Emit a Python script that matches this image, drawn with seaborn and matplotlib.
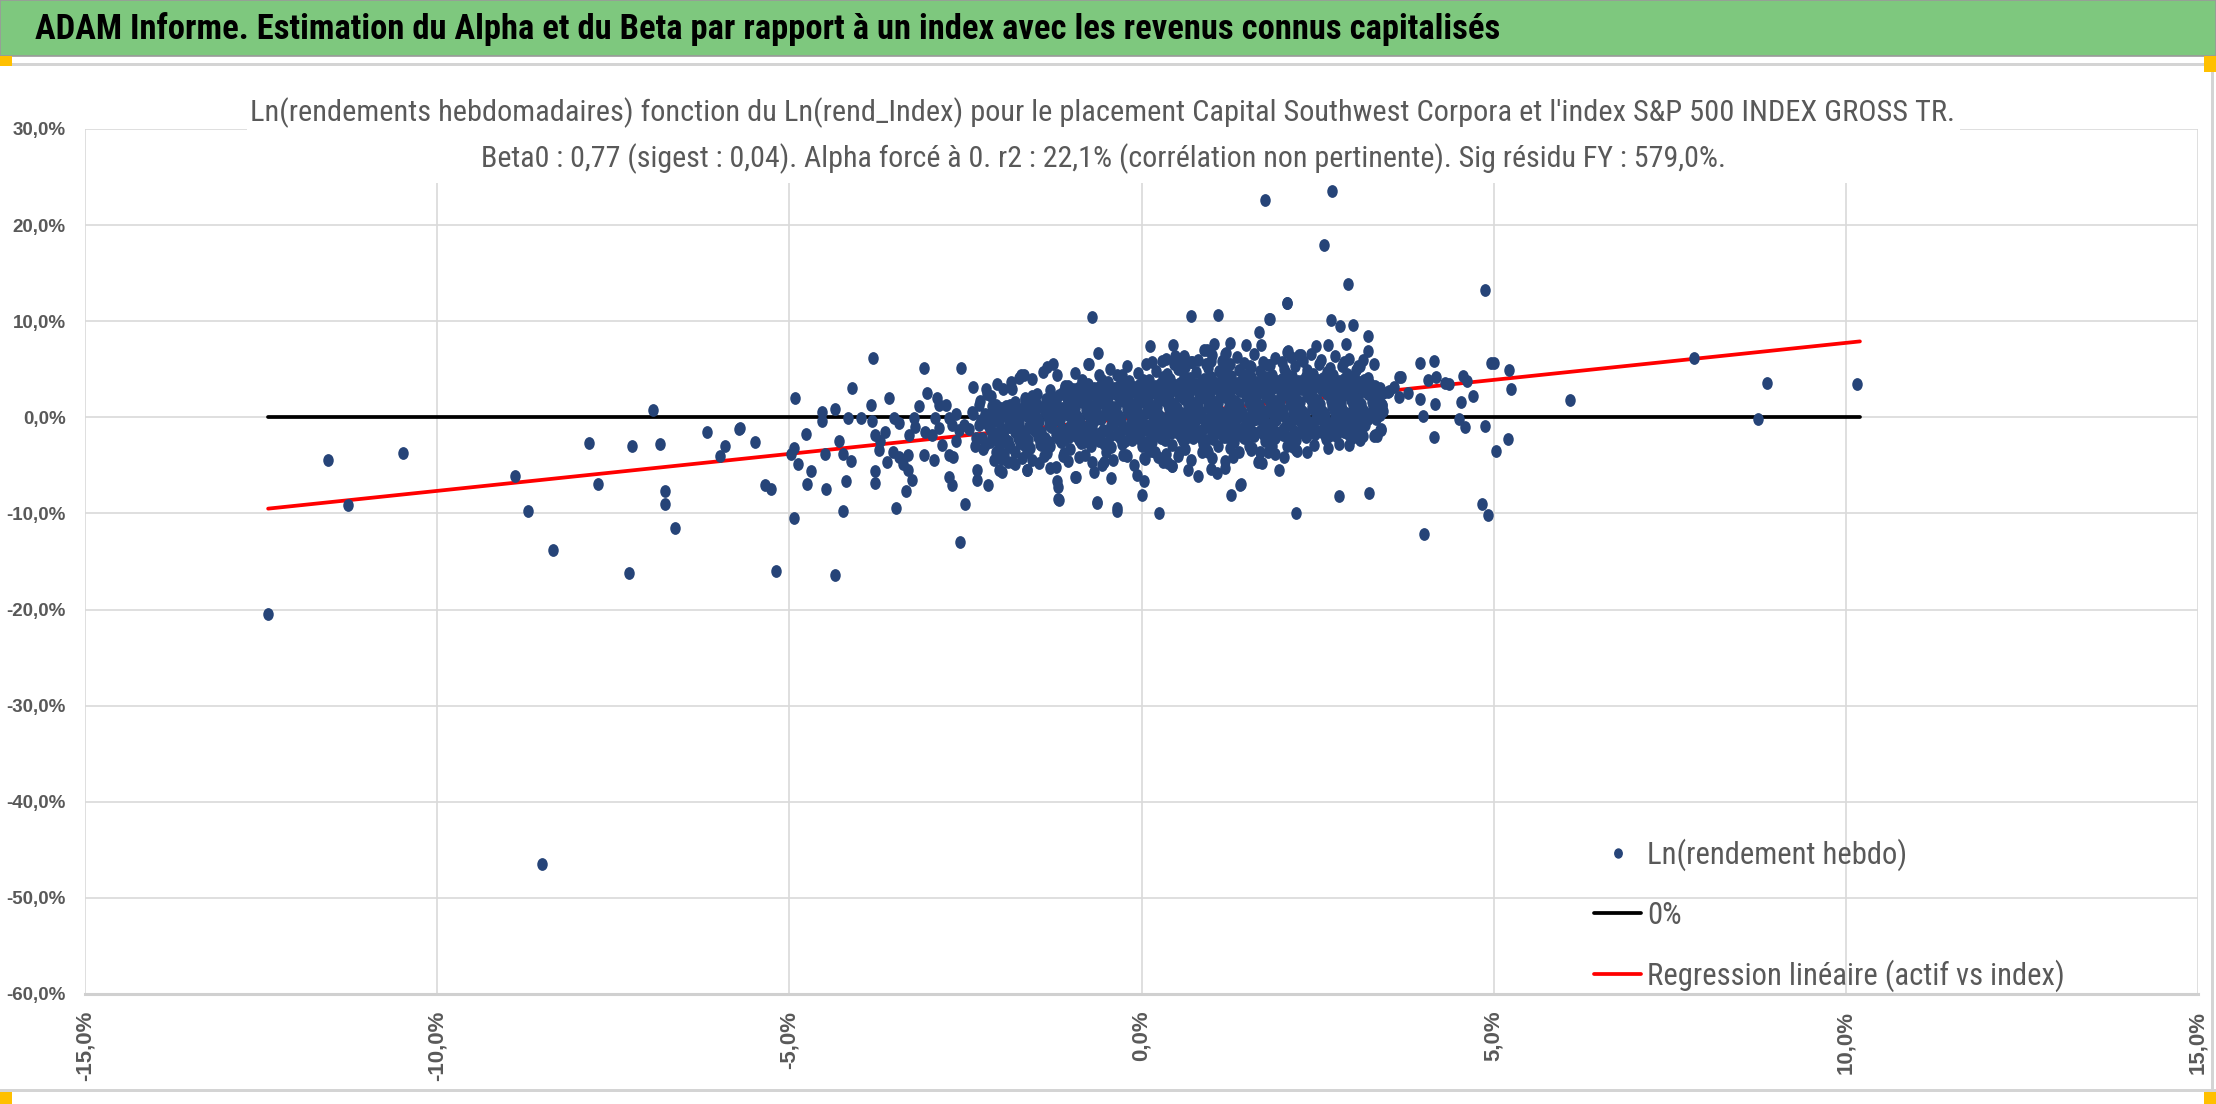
import matplotlib
matplotlib.use("Agg")

import pandas as pd
import matplotlib.pyplot as plt
import seaborn as sns
from matplotlib import font_manager
from matplotlib.patches import Rectangle
from matplotlib.path import Path
from matplotlib.markers import MarkerStyle
from matplotlib.transforms import Affine2D
from matplotlib.lines import Line2D

# ======================
# DATA  (x = Ln(rend_Index) %, y = Ln(rendement hebdo) %)
# ======================
header_title = ("ADAM Informe. Estimation du Alpha et du Beta par rapport à un index "
                "avec les revenus connus capitalisés")
chart_title_1 = ("Ln(rendements hebdomadaires) fonction du Ln(rend_Index) pour le placement "
                 "Capital Southwest Corpora et l'index S&P 500 INDEX GROSS TR.")
chart_title_2 = ("Beta0 : 0,77 (sigest : 0,04). Alpha forcé à 0. r2 : 22,1% "
                 "(corrélation non pertinente). Sig résidu FY : 579,0%.")
legend_labels = ["Ln(rendement hebdo)", "0%", "Regression linéaire (actif vs index)"]

x_ticks = [-15, -10, -5, 0, 5, 10, 15]
x_tick_labels = ["-15,0%", "-10,0%", "-5,0%", "0,0%", "5,0%", "10,0%", "15,0%"]
y_ticks = [30, 20, 10, 0, -10, -20, -30, -40, -50, -60]
y_tick_labels = ["30,0%", "20,0%", "10,0%", "0,0%", "-10,0%", "-20,0%",
                 "-30,0%", "-40,0%", "-50,0%", "-60,0%"]

zero_x = [-12.4, 10.2]
zero_y = [0.0, 0.0]
reg_x = [-12.4, 10.2]
reg_y = [-9.5, 7.9]

left_tail = [(-12.40, -20.45), (-11.55, -4.45), (-11.26, -9.1), (-10.49, -3.72),
             (-8.90, -6.09), (-8.71, -9.70), (-8.51, -46.5), (-8.35, -13.77),
             (-7.84, -2.64), (-7.71, -6.96), (-7.27, -16.17), (-7.24, -2.99),
             (-6.94, 0.73), (-6.84, -2.75), (-6.77, -7.65), (-6.77, -8.97),
             (-6.63, -11.51), (-6.17, -1.57), (-5.99, -4.07), (-5.92, -2.99),
             (-5.72, -1.25), (-5.70, -1.08), (-5.49, -2.54), (-5.35, -7.03),
             (-5.26, -7.44), (-5.19, -16.03)]

mid_left = [(-4.93, -10.43), (-4.92, 2.05), (-4.97, -3.83), (-4.93, -3.17), (-4.88, -4.9),
            (-4.76, -1.7), (-4.75, -6.96), (-4.69, -5.63), (-4.53, 0.6), (-4.53, -0.4),
            (-4.50, -3.8), (-4.48, -7.5), (-4.35, -16.4), (-4.35, 0.9), (-4.29, -2.5),
            (-4.24, -3.8), (-4.13, -4.5), (-4.20, -6.6), (-4.24, -9.7), (-4.11, 3.1),
            (-4.16, -0.1), (-3.98, -0.1), (-3.84, 1.3), (-3.81, 6.2), (-3.59, 2.0),
            (-3.83, -0.4), (-3.78, -1.8), (-3.71, -2.5), (-3.73, -3.4), (-3.64, -1.5),
            (-3.79, -5.6), (-3.79, -6.8), (-3.62, -4.6), (-3.48, -9.4), (-3.53, -3.6),
            (-3.45, -4.1), (-3.39, -4.9), (-3.31, -5.5), (-3.31, -3.9), (-3.34, -7.7),
            (-3.26, -6.5), (-3.52, -0.1), (-3.45, -0.6), (-3.30, -1.8), (-3.23, -0.1),
            (-3.21, -1.0), (-3.16, 1.2), (-3.09, 5.1), (-3.04, 2.5), (-3.07, -1.5),
            (-3.09, -3.9), (-2.95, -4.4), (-2.90, 2.0), (-2.88, 1.3), (-2.93, -0.1),
            (-2.88, -1.1), (-2.97, -1.8), (-2.83, -2.9), (-2.78, 1.3), (-2.74, -0.1),
            (-2.69, -0.8), (-2.74, -6.2), (-2.69, -7.0), (-2.58, -13.0), (-2.56, 5.1),
            (-2.64, 0.3), (-2.59, -1.3), (-2.52, -0.8), (-2.64, -2.5), (-2.67, -4.1),
            (-2.74, -3.9), (-2.50, -9.0), (-2.39, 3.2), (-2.34, -5.5), (-2.34, -6.5),
            (-2.31, 1.3), (-2.39, 0.3), (-2.31, -0.8), (-2.26, -2.2), (-2.36, -3.0),
            (-2.18, -7.0), (-2.21, 2.9), (-2.14, 2.2), (-2.17, -0.8), (-2.12, -1.8),
            (-2.22, -2.9), (-2.07, -3.6), (-2.03, -5.5), (-2.45, -1.2), (-2.40, 0.6),
            (-2.35, -2.1), (-2.30, 1.7), (-2.28, -0.3), (-2.25, -3.3), (-2.20, 2.4),
            (-2.15, -2.6), (-2.12, 1.2)]

core_a = [(-2.02, -2.9), (-1.87, -3.1), (-1.73, -2.7), (-1.58, -3.2), (-1.44, -2.8),
          (-1.30, -3.0), (-1.15, -2.6), (-1.01, -3.3), (-0.86, -2.7), (-0.72, -3.0),
          (-0.57, -2.5), (-0.43, -3.1), (-0.28, -2.8), (-0.14, -2.4), (0.01, -3.0),
          (0.15, -2.6), (0.30, -2.2), (0.44, -2.9), (0.59, -2.5), (0.73, -2.1),
          (0.88, -2.8), (1.02, -2.3), (1.17, -2.0), (1.31, -2.6), (1.46, -2.2),
          (1.60, -1.9), (1.75, -2.5), (1.89, -2.1), (2.04, -1.8), (2.18, -2.4),
          (2.33, -2.0), (2.47, -1.7), (2.62, -2.3), (2.76, -1.9), (2.91, -1.5)]

core_ab = [(-2.05, -2.3), (-1.90, -2.5), (-1.76, -2.1), (-1.61, -2.4), (-1.47, -2.0),
           (-1.32, -2.6), (-1.18, -2.2), (-1.03, -2.0), (-0.89, -2.4), (-0.74, -2.1),
           (-0.60, -2.5), (-0.45, -1.9), (-0.31, -2.2), (-0.16, -2.0), (-0.02, -2.3),
           (0.13, -1.9), (0.27, -2.1), (0.42, -1.6), (0.56, -2.0), (0.71, -1.7),
           (0.85, -2.1), (1.00, -1.6), (1.14, -1.8), (1.29, -1.4), (1.43, -1.9),
           (1.58, -1.5), (1.72, -1.7), (1.87, -1.3), (2.01, -1.8), (2.16, -1.4),
           (2.30, -1.6), (2.45, -1.2), (2.59, -1.7), (2.74, -1.3), (2.88, -1.5),
           (3.03, -1.6)]

core_b = [(-2.10, -1.6), (-1.95, -2.0), (-1.80, -1.5), (-1.66, -1.9), (-1.51, -1.4),
          (-1.37, -2.1), (-1.22, -1.7), (-1.08, -1.3), (-0.93, -1.9), (-0.79, -1.5),
          (-0.64, -2.0), (-0.50, -1.4), (-0.35, -1.8), (-0.21, -1.2), (-0.06, -1.7),
          (0.08, -1.3), (0.23, -1.8), (0.37, -1.1), (0.52, -1.6), (0.66, -1.2),
          (0.81, -1.7), (0.95, -1.0), (1.10, -1.5), (1.24, -1.1), (1.39, -1.6),
          (1.53, -0.9), (1.68, -1.4), (1.82, -1.0), (1.97, -1.5), (2.11, -0.8),
          (2.26, -1.3), (2.40, -0.9), (2.55, -1.4), (2.69, -0.7), (2.84, -1.2),
          (2.98, -0.8), (3.13, -1.1)]

core_bc = [(-2.15, -1.2), (-2.00, -1.4), (-1.86, -1.0), (-1.71, -1.3), (-1.57, -1.1),
           (-1.42, -1.5), (-1.28, -1.0), (-1.13, -1.2), (-0.99, -1.4), (-0.84, -0.9),
           (-0.70, -1.1), (-0.55, -1.3), (-0.41, -0.8), (-0.26, -1.0), (-0.12, -1.2),
           (0.03, -0.7), (0.17, -0.9), (0.32, -0.6), (0.46, -1.0), (0.61, -0.5),
           (0.75, -0.8), (0.90, -0.4), (1.04, -0.7), (1.19, -0.3), (1.33, -0.6),
           (1.48, -0.5), (1.62, -0.2), (1.77, -0.6), (1.91, -0.3), (2.06, -0.5),
           (2.20, -0.1), (2.35, -0.4), (2.49, -0.2), (2.64, -0.5), (2.78, 0.0),
           (2.93, -0.3), (3.07, -0.6), (3.22, -0.2)]

core_c = [(-2.18, -0.8), (-2.03, -0.5), (-1.89, -1.0), (-1.74, -0.6), (-1.60, -0.9),
          (-1.45, -0.4), (-1.31, -0.8), (-1.16, -0.3), (-1.02, -0.9), (-0.87, -0.5),
          (-0.73, -0.7), (-0.58, -0.2), (-0.44, -0.8), (-0.29, -0.4), (-0.15, -0.6),
          (0.00, -0.1), (0.14, -0.7), (0.29, -0.2), (0.43, -0.5), (0.58, 0.0),
          (0.72, -0.6), (0.87, -0.1), (1.01, -0.4), (1.16, 0.1), (1.30, -0.5),
          (1.45, 0.0), (1.59, -0.3), (1.74, 0.2), (1.88, -0.4), (2.03, 0.1),
          (2.17, -0.2), (2.32, 0.3), (2.46, -0.3), (2.61, 0.2), (2.75, -0.1),
          (2.90, 0.4), (3.04, 0.0), (3.19, 0.3), (3.33, -0.2)]

core_cd = [(-2.20, -0.2), (-2.05, -0.4), (-1.91, 0.0), (-1.76, -0.3), (-1.62, 0.1),
           (-1.47, -0.2), (-1.33, 0.0), (-1.18, -0.1), (-1.04, 0.2), (-0.89, -0.2),
           (-0.75, 0.1), (-0.60, 0.0), (-0.46, 0.2), (-0.31, -0.1), (-0.17, 0.3),
           (-0.02, 0.1), (0.12, 0.4), (0.27, 0.0), (0.41, 0.3), (0.56, 0.5),
           (0.70, 0.2), (0.85, 0.6), (0.99, 0.3), (1.14, 0.5), (1.28, 0.2),
           (1.43, 0.6), (1.57, 0.4), (1.72, 0.7), (1.86, 0.3), (2.01, 0.8),
           (2.15, 0.5), (2.30, 0.6), (2.44, 0.9), (2.59, 0.4), (2.73, 0.8),
           (2.88, 0.5), (3.02, 0.7), (3.17, 0.4), (3.31, 0.5)]

core_d = [(-2.22, 0.3), (-2.08, -0.1), (-1.93, 0.4), (-1.79, 0.1), (-1.64, 0.5),
          (-1.50, 0.0), (-1.35, 0.4), (-1.21, 0.2), (-1.06, 0.6), (-0.92, 0.1),
          (-0.77, 0.5), (-0.63, 0.3), (-0.48, 0.7), (-0.34, 0.2), (-0.19, 0.6),
          (-0.05, 0.4), (0.10, 0.8), (0.24, 0.3), (0.39, 0.9), (0.53, 0.5),
          (0.68, 0.8), (0.82, 0.4), (0.97, 1.0), (1.11, 0.6), (1.26, 0.9),
          (1.40, 0.5), (1.55, 1.1), (1.69, 0.7), (1.84, 1.0), (1.98, 0.6),
          (2.13, 1.2), (2.27, 0.8), (2.42, 1.1), (2.56, 0.7), (2.71, 1.2),
          (2.85, 0.9), (3.00, 1.3), (3.14, 0.8), (3.29, 1.1), (3.43, 0.7)]

core_de = [(-2.10, 0.7), (-1.95, 0.5), (-1.81, 0.8), (-1.66, 0.6), (-1.52, 0.9),
           (-1.37, 0.7), (-1.23, 0.9), (-1.08, 0.6), (-0.94, 1.0), (-0.79, 0.8),
           (-0.65, 1.0), (-0.50, 0.7), (-0.36, 1.1), (-0.21, 0.9), (-0.07, 1.2),
           (0.08, 0.8), (0.22, 1.1), (0.37, 1.3), (0.51, 1.0), (0.66, 1.2),
           (0.80, 1.4), (0.95, 1.1), (1.09, 1.5), (1.24, 1.2), (1.38, 1.4),
           (1.53, 1.6), (1.67, 1.3), (1.82, 1.5), (1.96, 1.7), (2.11, 1.4),
           (2.25, 1.6), (2.40, 1.8), (2.54, 1.4), (2.69, 1.7), (2.83, 1.5),
           (2.98, 1.8), (3.12, 1.4), (3.27, 1.6), (3.41, 1.3)]

core_e = [(-2.00, 1.0), (-1.86, 1.3), (-1.71, 0.9), (-1.57, 1.4), (-1.42, 1.1),
          (-1.28, 1.5), (-1.13, 1.0), (-0.99, 1.3), (-0.84, 1.6), (-0.70, 1.2),
          (-0.55, 1.5), (-0.41, 1.1), (-0.26, 1.7), (-0.12, 1.3), (0.03, 1.6),
          (0.17, 1.2), (0.32, 1.8), (0.46, 1.4), (0.61, 1.9), (0.75, 1.5),
          (0.90, 2.0), (1.04, 1.6), (1.19, 2.1), (1.33, 1.7), (1.48, 2.2),
          (1.62, 1.8), (1.77, 2.1), (1.91, 1.7), (2.06, 2.3), (2.20, 1.9),
          (2.35, 2.2), (2.49, 1.8), (2.64, 2.4), (2.78, 2.0), (2.93, 2.3),
          (3.07, 1.9), (3.22, 2.4), (3.36, 2.0), (3.50, 2.6)]

core_ef = [(-1.80, 1.6), (-1.65, 1.8), (-1.50, 1.5), (-1.36, 1.9), (-1.21, 1.7),
           (-1.06, 2.0), (-0.92, 1.8), (-0.77, 2.1), (-0.63, 1.9), (-0.48, 2.0),
           (-0.34, 2.2), (-0.19, 1.9), (-0.05, 2.1), (0.10, 2.3), (0.24, 2.0),
           (0.39, 2.4), (0.53, 2.2), (0.68, 2.5), (0.82, 2.3), (0.97, 2.6),
           (1.11, 2.4), (1.26, 2.5), (1.40, 2.7), (1.55, 2.4), (1.69, 2.6),
           (1.84, 2.8), (1.98, 2.5), (2.13, 2.7), (2.27, 2.9), (2.42, 2.6),
           (2.56, 2.8), (2.71, 3.0), (2.85, 2.6), (3.00, 2.9), (3.14, 2.7),
           (3.29, 2.9), (3.43, 2.5)]

core_f = [(-1.65, 2.0), (-1.48, 2.4), (-1.32, 1.9), (-1.17, 2.3), (-1.03, 2.6),
          (-0.88, 2.1), (-0.74, 2.5), (-0.59, 2.2), (-0.45, 2.7), (-0.30, 2.3),
          (-0.16, 2.8), (-0.01, 2.4), (0.13, 2.9), (0.28, 2.5), (0.42, 3.0),
          (0.57, 2.6), (0.71, 3.1), (0.86, 2.7), (1.00, 3.2), (1.15, 2.8),
          (1.29, 3.3), (1.44, 2.9), (1.58, 3.2), (1.73, 2.8), (1.87, 3.4),
          (2.02, 3.0), (2.16, 3.3), (2.31, 2.9), (2.45, 3.5), (2.60, 3.1),
          (2.74, 3.4), (2.89, 3.0), (3.03, 3.5), (3.18, 3.1), (3.32, 3.3)]

core_fg = [(-1.30, 2.8), (-1.12, 2.6), (-0.97, 2.9), (-0.83, 2.7), (-0.68, 3.0),
           (-0.54, 2.8), (-0.39, 3.1), (-0.25, 2.9), (-0.10, 3.2), (0.04, 3.0),
           (0.19, 3.3), (0.33, 3.1), (0.48, 3.4), (0.62, 3.2), (0.77, 3.5),
           (0.91, 3.3), (1.06, 3.6), (1.20, 3.4), (1.35, 3.6), (1.49, 3.4),
           (1.64, 3.7), (1.78, 3.5), (1.93, 3.8), (2.07, 3.6), (2.22, 3.8),
           (2.36, 3.5), (2.51, 3.9), (2.65, 3.7), (2.80, 3.8), (2.94, 3.6),
           (3.09, 3.7), (3.24, 3.5)]

core_g = [(-1.05, 3.3), (-0.90, 3.0), (-0.76, 3.5), (-0.61, 3.2), (-0.47, 3.7),
          (-0.32, 3.3), (-0.18, 3.8), (-0.03, 3.4), (0.11, 3.9), (0.26, 3.5),
          (0.40, 4.0), (0.55, 3.6), (0.69, 4.1), (0.84, 3.7), (0.98, 4.2),
          (1.13, 3.8), (1.27, 4.3), (1.42, 3.9), (1.56, 4.2), (1.71, 3.8),
          (1.85, 4.4), (2.00, 4.0), (2.14, 4.3), (2.29, 3.9), (2.43, 4.5),
          (2.58, 4.1), (2.72, 4.4), (2.87, 4.0), (3.01, 4.3), (3.16, 3.9)]

core_fill = [(-1.96, -2.6), (-1.67, -2.9), (-1.39, -2.5), (-1.10, -2.4), (-0.82, -2.6),
             (-0.53, -2.8), (-0.24, -2.5), (0.05, -2.6), (0.34, -2.4), (0.63, -2.2),
             (0.92, -2.4), (1.21, -2.0), (1.50, -1.8), (1.79, -2.0), (2.08, -2.1),
             (2.37, -1.7), (2.66, -1.9), (2.95, -1.8),
             (-2.04, -1.8), (-1.75, -1.7), (-1.46, -1.8), (-1.17, -1.5), (-0.88, -1.2),
             (-0.59, -1.6), (-0.30, -1.5), (-0.01, -1.4), (0.28, -1.4), (0.57, -0.9),
             (0.86, -1.3), (1.15, -0.9), (1.44, -1.1), (1.73, -0.8), (2.02, -1.1),
             (2.31, -0.6), (2.60, -1.0), (2.89, -0.5), (3.18, -0.8),
             (-2.12, -0.5), (-1.83, -0.7), (-1.54, -0.6), (-1.25, -0.5), (-0.96, -0.6),
             (-0.67, -0.4), (-0.38, -0.3), (-0.09, -0.5), (0.20, -0.4), (0.49, -0.2),
             (0.78, -0.3), (1.07, 0.0), (1.36, -0.1), (1.65, 0.0), (1.94, 0.2),
             (2.23, -0.3), (2.52, 0.1), (2.81, 0.3), (3.10, 0.2), (3.38, 0.2),
             (-2.15, 0.1), (-1.86, 0.2), (-1.57, 0.3), (-1.28, 0.1), (-0.99, 0.4),
             (-0.70, 0.6), (-0.41, 0.4), (-0.12, 0.7), (0.17, 0.6), (0.46, 0.7),
             (0.75, 1.0), (1.04, 0.8), (1.33, 0.7), (1.62, 1.0), (1.91, 0.8),
             (2.20, 1.0), (2.49, 1.3), (2.78, 1.0), (3.07, 1.0), (3.36, 0.9),
             (-1.92, 1.2), (-1.63, 1.0), (-1.34, 1.2), (-1.05, 1.5), (-0.76, 1.4),
             (-0.47, 1.3), (-0.18, 1.5), (0.11, 1.4), (0.40, 1.6), (0.69, 1.7),
             (0.98, 1.8), (1.27, 1.9), (1.56, 2.0), (1.85, 1.8), (2.14, 2.1),
             (2.43, 2.0), (2.72, 2.2), (3.01, 2.1), (3.30, 2.3),
             (-1.55, 2.2), (-1.26, 2.1), (-0.97, 2.3), (-0.68, 2.4), (-0.39, 2.5),
             (-0.10, 2.6), (0.19, 2.7), (0.48, 2.8), (0.77, 2.9), (1.06, 3.0),
             (1.35, 3.1), (1.64, 3.0), (1.93, 3.2), (2.22, 3.1), (2.51, 3.3),
             (2.80, 3.2), (3.09, 3.2), (3.38, 3.0),
             (-0.85, 3.6), (-0.56, 3.9), (-0.27, 3.6), (0.02, 3.9), (0.31, 4.2),
             (0.60, 4.3), (0.89, 4.0), (1.18, 4.5), (1.47, 4.4), (1.76, 4.2),
             (2.05, 4.6), (2.34, 4.3), (2.63, 4.7), (2.92, 4.5), (3.21, 4.1)]

core_top = [(-0.35, 4.4), (-0.05, 4.6), (0.20, 4.8), (0.36, 4.5), (0.52, 5.0),
            (0.78, 4.7), (0.95, 5.1), (1.10, 4.8), (1.22, 5.3), (1.38, 4.9),
            (1.55, 5.2), (1.68, 4.8), (1.83, 5.4), (2.02, 5.0), (2.18, 5.3),
            (2.35, 4.9), (2.52, 5.5), (2.68, 5.1), (2.85, 5.3), (3.05, 4.9),
            (0.15, 5.8), (0.35, 6.1), (0.55, 5.6), (0.80, 6.0), (1.00, 6.5),
            (1.15, 5.9), (1.35, 6.3), (1.45, 5.7), (1.60, 6.6), (1.90, 6.2),
            (2.00, 5.8), (2.12, 6.3), (2.30, 5.9), (2.40, 6.6), (2.55, 6.0),
            (2.75, 6.4), (2.95, 6.1), (3.15, 6.0), (3.30, 5.5), (-0.20, 5.3),
            (-0.45, 5.0), (-0.95, 4.6), (-1.40, 4.7), (-1.85, 3.7), (-2.05, 3.5),
            (2.88, 5.8), (1.25, 5.5), (0.62, 5.2)]

core_bottom = [(-1.95, -3.8), (-1.62, -3.6), (-1.38, -4.0), (-1.10, -3.7), (-0.80, -3.9),
               (-0.50, -3.6), (-0.20, -4.0), (0.10, -3.5), (0.35, -3.8), (0.62, -3.3),
               (0.95, -3.6), (1.25, -3.2), (1.55, -3.4), (1.85, -3.0), (2.15, -3.1),
               (2.45, -2.9), (2.80, -2.8), (3.10, -2.4), (3.30, -1.9), (3.40, -1.2),
               (-1.70, -4.2), (-1.45, -4.8), (-1.05, -4.5), (-0.70, -4.6), (-0.40, -4.4),
               (-0.10, -5.0), (0.30, -4.6), (0.70, -4.4), (1.00, -4.2), (1.30, -4.1),
               (1.80, -3.6), (2.35, -3.6), (2.65, -3.2), (2.95, -2.9), (-2.10, -4.4),
               (-1.30, -5.3)]

top_halo = [(-0.70, 10.4), (0.70, 10.5), (1.09, 10.6), (2.06, 11.9), (1.81, 10.2),
            (1.67, 8.9), (-0.62, 6.7), (-0.75, 5.6), (0.12, 7.4), (0.45, 7.5),
            (0.07, 5.5), (0.29, 5.9), (-0.76, 5.5), (-1.25, 5.6), (-1.34, 5.2),
            (-1.55, 4.0), (-1.71, 4.45), (-1.20, 4.4), (-1.09, 3.3), (0.89, 7.0),
            (1.03, 7.6), (1.25, 7.7), (1.19, 6.6), (1.48, 7.5), (1.70, 7.5),
            (2.07, 6.8), (2.23, 6.5), (0.61, 6.4), (0.70, 5.8), (0.48, 6.4),
            (0.46, 5.5), (0.91, 5.6), (0.98, 5.9), (1.54, 5.3), (1.72, 5.8),
            (1.80, 5.4), (-0.27, 4.45), (-0.61, 4.4), (-0.85, 3.9), (0.93, 7.0),
            (1.20, 6.7), (0.61, 6.3), (0.71, 5.8), (-1.96, 2.9), (-1.84, 2.9),
            (-1.74, 4.1), (-1.67, 4.4), (-2.07, 1.3), (-1.98, 0.3), (-1.88, 1.0),
            (-1.79, 1.3), (-1.70, 0.3), (-1.60, 0.6), (-1.09, 3.2)]

bottom_halo = [(-1.18, -8.5), (-1.20, -6.6), (-1.18, -7.2), (-0.63, -8.8), (-0.35, -9.4),
               (0.00, -8.1), (-0.06, -6.0), (0.03, -6.6), (-0.93, -6.2), (-0.68, -5.7),
               (-0.44, -6.3), (-1.63, -5.5), (-1.22, -5.2), (-1.55, -4.4), (-1.79, -4.9),
               (-1.89, -4.6), (-1.98, -5.7), (-0.56, -5.0), (-0.53, -4.6), (0.66, -5.5),
               (0.80, -6.1), (0.99, -5.4), (1.07, -5.8), (1.18, -5.3), (1.18, -4.5),
               (1.27, -8.1), (1.40, -7.0), (1.67, -4.5), (2.20, -3.4), (0.44, -5.1),
               (0.52, -4.0), (0.24, -4.1), (0.15, -3.5), (0.04, -4.2), (-0.22, -3.9),
               (-0.89, -4.1), (-1.12, -4.0), (-1.34, -3.7), (-1.42, -2.9), (1.38, -3.6),
               (1.52, -3.0), (1.57, -3.2), (0.25, -10.0), (-0.26, -3.9), (0.05, -4.3),
               (0.19, -3.6), (0.38, -4.8), (0.43, -5.1), (0.53, -3.6), (0.86, -3.6),
               (0.93, -3.4), (1.09, -3.0), (1.66, -4.6), (1.68, -3.6), (1.41, -6.9),
               (-1.98, -4.3), (-1.84, -4.6), (-1.79, -3.6), (-1.88, -2.9), (-1.62, -5.5),
               (-1.17, -8.6), (-0.94, -6.2), (-0.63, -8.9), (-0.35, -9.7)]

right_tail = [(1.76, 22.6), (2.71, 23.6), (2.59, 17.95), (2.93, 13.9), (2.07, 11.9),
              (1.82, 10.2), (2.69, 10.1), (2.82, 9.5), (3.00, 9.6), (3.22, 8.5),
              (3.22, 6.9), (2.08, 6.9), (2.26, 6.5), (2.48, 7.4), (2.65, 7.5),
              (2.90, 7.6), (3.10, 5.3), (4.87, 13.2), (3.96, 5.7), (4.15, 5.9),
              (4.96, 5.7), (5.01, 5.7), (5.22, 4.9), (5.25, 2.9), (3.69, 4.2),
              (4.07, 3.9), (4.18, 4.2), (4.31, 3.6), (4.37, 3.5), (4.57, 4.3),
              (4.62, 3.8), (4.71, 2.2), (4.54, 1.6), (4.16, 1.4), (3.95, 1.9),
              (3.78, 2.5), (3.65, 2.1), (3.99, 0.1), (4.51, -0.2), (4.60, -1.0),
              (4.87, -0.9), (4.15, -2.0), (5.20, -2.3), (5.03, -3.5), (6.08, 1.8),
              (7.85, 6.2), (8.75, -0.2), (8.88, 3.6), (10.16, 3.5), (4.83, -9.0),
              (4.92, -10.2), (4.01, -12.1), (3.23, -7.9), (2.80, -8.2), (2.19, -10.0),
              (1.95, -5.5), (1.90, -3.8), (2.03, -4.1), (2.21, -3.5), (2.19, -2.35),
              (2.06, -3.0), (1.84, -2.3), (1.71, -4.8), (2.99, -2.2), (3.15, -1.9),
              (3.34, -1.9), (3.40, -1.3), (2.47, -1.4), (2.62, -1.0), (2.80, -0.4),
              (3.35, 2.7), (3.37, 2.0), (3.42, 1.3), (3.51, 2.7), (3.58, 3.2),
              (3.08, 5.3), (3.66, 4.2), (2.59, -0.8), (2.99, -2.0), (3.32, -1.8),
              (3.39, -1.3)]

# ======================
# STYLE
# ======================
W, H, DPI = 2216, 1104, 100
BLUE = "#264478"
GRAY_TXT = "#595959"
GREEN = "#7EC87E"
ORANGE = "#FFC000"

sns.set_style("whitegrid")
installed = {f.name for f in font_manager.fontManager.ttflist}
MAIN = next((f for f in ["Liberation Sans Narrow", "Roboto Condensed", "Lato", "Roboto"]
             if f in installed), "DejaVu Sans")
WIDE = "Liberation Sans" if "Liberation Sans" in installed else "DejaVu Sans"
plt.rcParams["font.family"] = [MAIN, "DejaVu Sans"]

fig = plt.figure(figsize=(W / DPI, H / DPI), dpi=DPI)
fig.patch.set_facecolor("white")
renderer = fig.canvas.get_renderer()


def fx(px):
    return px / W


def fy(py):
    return 1 - py / H


def size_for(text, target_px, weight="normal"):
    # font size whose rendered width matches target_px
    t = fig.text(0, 0, text, fontsize=20, fontweight=weight)
    w = t.get_window_extent(renderer=renderer).width
    t.remove()
    return 20 * target_px / w


# ======================
# FRAME (header band, separators, handles)
# ======================
fig.patches.append(Rectangle((0, fy(56)), 1, fy(0) - fy(56), transform=fig.transFigure,
                             facecolor=GREEN, edgecolor="#9A9A9A", linewidth=1.2, zorder=0))
fig.patches.append(Rectangle((0, fy(66)), 1, fy(63) - fy(66), transform=fig.transFigure,
                             facecolor="#D4D4D4", edgecolor="none", zorder=0))
fig.patches.append(Rectangle((0, fy(1092)), 1, fy(1089) - fy(1092), transform=fig.transFigure,
                             facecolor="#D4D4D4", edgecolor="none", zorder=0))
fig.patches.append(Rectangle((fx(2211), fy(1090)), fx(3), fy(66) - fy(1090),
                             transform=fig.transFigure, facecolor="#D4D4D4",
                             edgecolor="none", zorder=0))
for (hx, hy, hw, hh) in [(0, 56, 12, 10), (2204, 56, 12, 16), (0, 1092, 12, 12), (2204, 1092, 12, 12)]:
    fig.patches.append(Rectangle((fx(hx), fy(hy + hh)), fx(hw), fy(hy) - fy(hy + hh),
                                 transform=fig.transFigure, facecolor=ORANGE,
                                 edgecolor="none", zorder=5))

fig.text(fx(35), fy(29), header_title, ha="left", va="center", color="black",
         fontweight="bold", fontsize=size_for(header_title, 1460, "bold"))

# ======================
# PLOT
# ======================
ax = fig.add_axes([fx(85), fy(994), fx(2198) - fx(85), fy(129) - fy(994)])

pts = pd.DataFrame(left_tail + mid_left + core_a + core_ab + core_b + core_bc + core_c
                   + core_cd + core_d + core_de + core_e + core_ef + core_f + core_fg
                   + core_g + core_fill + core_top + core_bottom + top_halo + bottom_halo
                   + right_tail, columns=["index_ret", "asset_ret"])

ell = MarkerStyle(Path.unit_circle().transformed(Affine2D().scale(0.82, 1.0)))

sns.lineplot(x=zero_x, y=zero_y, color="black", linewidth=2.7, ax=ax, zorder=2)
sns.lineplot(x=reg_x, y=reg_y, color="#FF0000", linewidth=2.7, ax=ax, zorder=2)
sns.scatterplot(data=pts, x="index_ret", y="asset_ret", marker=ell, s=85, color=BLUE,
                edgecolor=BLUE, linewidth=0, ax=ax, zorder=3, legend=False)

ax.set_xlim(-15, 15)
ax.set_ylim(-60, 30)
ax.set_xticks(x_ticks)
ax.set_xticklabels(x_tick_labels)
ax.set_yticks(y_ticks)
ax.set_yticklabels(y_tick_labels)
ax.set_xlabel("")
ax.set_ylabel("")
ax.grid(True, color="#D9D9D9", linewidth=1.2)
ax.set_axisbelow(True)
for s in ax.spines.values():
    s.set_visible(False)
ax.spines["bottom"].set_visible(True)
ax.spines["bottom"].set_color("#D0D0D0")
ax.spines["bottom"].set_linewidth(2.2)
ax.tick_params(axis="both", length=0, colors=GRAY_TXT)
ax.tick_params(axis="y", pad=14)
ax.tick_params(axis="x", pad=12)
for lbl in ax.get_yticklabels():
    lbl.set_fontfamily(WIDE)
    lbl.set_fontweight("bold")
    lbl.set_fontsize(13.5)
for lbl in ax.get_xticklabels():
    lbl.set_fontfamily(WIDE)
    lbl.set_fontweight("bold")
    lbl.set_fontsize(16)
    lbl.set_rotation(90)
    lbl.set_va("top")

# chart title on a white box over the top gridline
fig.patches.append(Rectangle((fx(247), fy(183)), fx(1960) - fx(247), fy(92) - fy(183),
                             transform=fig.transFigure, facecolor="white",
                             edgecolor="none", zorder=1))
fig.text(fx(1103), fy(113), chart_title_1, ha="center", va="center", color=GRAY_TXT,
         fontsize=size_for(chart_title_1, 1703), zorder=2)
fig.text(fx(1103), fy(159), chart_title_2, ha="center", va="center", color=GRAY_TXT,
         fontsize=size_for(chart_title_2, 1245), zorder=2)

# legend
leg_size = size_for(legend_labels[0], 260)
leg_px = leg_size * DPI / 72
handles = [Line2D([], [], linestyle="none", marker=ell, markersize=6.5, color=BLUE),
           Line2D([], [], color="black", linewidth=2.7),
           Line2D([], [], color="#FF0000", linewidth=2.7)]
leg = ax.legend(handles, legend_labels, loc="upper left",
                bbox_to_anchor=(fx(1594), fy(838)), bbox_transform=fig.transFigure,
                frameon=False, fontsize=leg_size, handlelength=47 / leg_px,
                handletextpad=6 / leg_px, labelspacing=0.98, borderpad=0, borderaxespad=0)
for t in leg.get_texts():
    t.set_color(GRAY_TXT)

fig.savefig("out.png", dpi=DPI)
